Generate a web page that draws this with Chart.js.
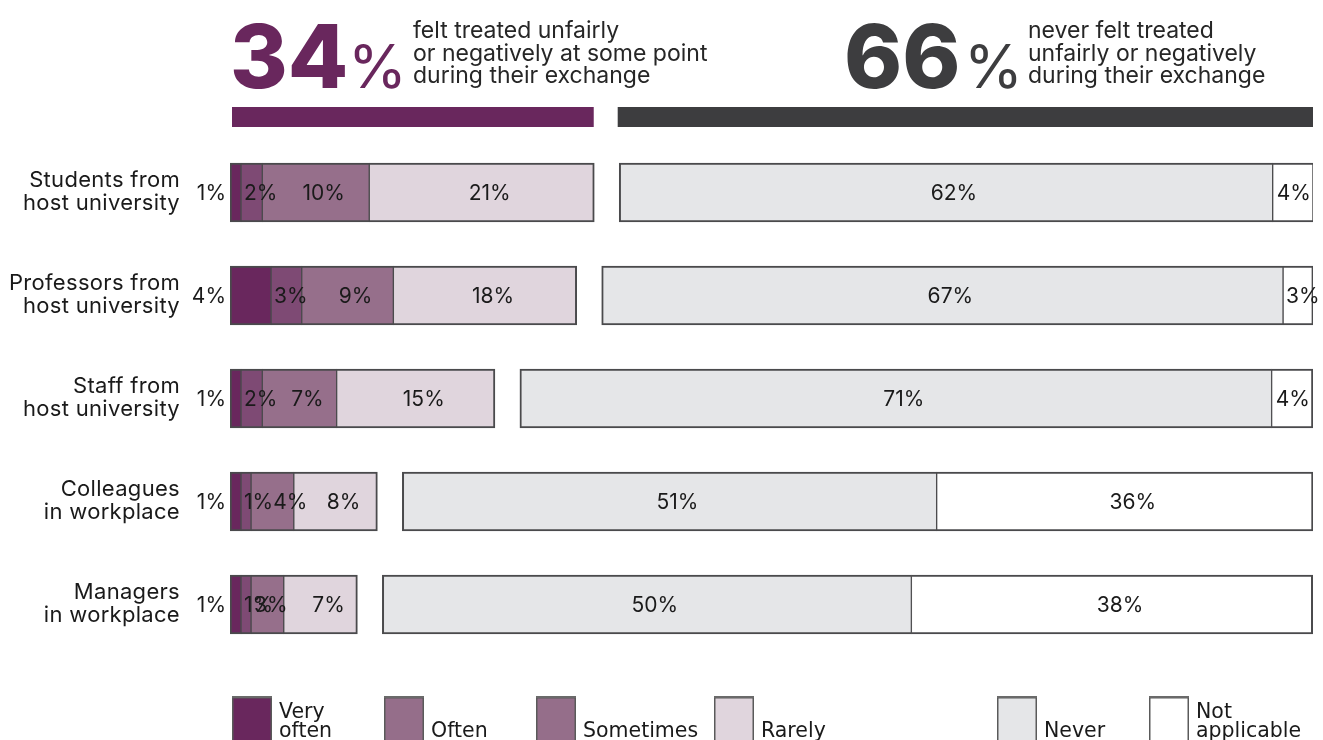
<!DOCTYPE html>
<html>
<head>
<meta charset="utf-8">
<script src="https://cdn.jsdelivr.net/npm/chart.js@4.4.1/dist/chart.umd.min.js"></script>
<style>
html,body{margin:0;padding:0;background:#ffffff;}
#wrap{position:relative;width:1323px;height:740px;overflow:hidden;}
canvas{display:block;}
</style>
</head>
<body>
<div id="wrap"><canvas id="chart" width="1323" height="740"></canvas></div>
<script>
// ---------------- DATA ----------------
const categories = [
  ["Students from", "host university"],
  ["Professors from", "host university"],
  ["Staff from", "host university"],
  ["Colleagues", "in workplace"],
  ["Managers", "in workplace"]
];
const seriesNames = ["Very often", "Often", "Sometimes", "Rarely", "Never", "Not applicable"];

// bar lengths (percent) as drawn in the picture
const veryOften     = [1.04, 3.88, 1.04, 1.04, 1.04];
const often         = [2.01, 2.90, 2.01, 0.95, 0.95];
const sometimes     = [10.11, 8.66, 7.03, 4.04, 3.09];
const rarely        = [21.27, 17.33, 14.96, 7.90, 6.96];
const never         = [61.76, 64.40, 71.05, 50.50, 50.00];
const notApplicable = [3.90, 2.86, 3.90, 35.57, 37.93];
// empty spacer between the two groups (percent units)
const spacer        = [2.36, 2.36, 2.36, 2.36, 2.36];

// printed value labels
const veryOftenLabels     = ["1%", "4%", "1%", "1%", "1%"];
const oftenLabels         = ["2%", "3%", "2%", "1%", "1%"];
const sometimesLabels     = ["10%", "9%", "7%", "4%", "3%"];
const rarelyLabels        = ["21%", "18%", "15%", "8%", "7%"];
const neverLabels         = ["62%", "67%", "71%", "51%", "50%"];
const notApplicableLabels = ["4%", "3%", "4%", "36%", "38%"];

// headline figures
const headlineValues = [34, 66];
const headlineTexts = [
  ["felt treated unfairly", "or negatively at some point", "during their exchange"],
  ["never felt treated", "unfairly or negatively", "during their exchange"]
];
const axisMax = 102.36;

// ---------------- STYLE ----------------
const COL = {
  veryOften: "#69275d",
  often: "#7e4a74",
  sometimes: "#966f8b",
  rarely: "#e0d5dd",
  never: "#e5e6e8",
  na: "#ffffff",
  border: "#4a4a4c",
  dark: "#3d3d3f",
  text: "#1a1a1a"
};
const legendColors = ["#69275d", "#956e8a", "#956e8a", "#e0d5dd", "#e5e6e8", "#ffffff"];
const legendLines = [["Very", "often"], ["Often"], ["Sometimes"], ["Rarely"], ["Never"], ["Not", "applicable"]];
const legendBoxX = [232, 384, 536, 714, 997, 1149];

const CAT_FONT = '22px Inter, "Noto Sans", sans-serif';
const LABEL_FONT = '21px Inter, "Noto Sans", sans-serif';

function bw(l, r) { return { top: 2, bottom: 2, left: l, right: r }; }

const datasets = [
  { label: seriesNames[0], data: veryOften, backgroundColor: COL.veryOften, borderWidth: bw(2, 1), valueLabels: veryOftenLabels, pos: "outside" },
  { label: seriesNames[1], data: often, backgroundColor: COL.often, borderWidth: bw(1, 1), valueLabels: oftenLabels },
  { label: seriesNames[2], data: sometimes, backgroundColor: COL.sometimes, borderWidth: bw(1, 1), valueLabels: sometimesLabels },
  { label: seriesNames[3], data: rarely, backgroundColor: COL.rarely, borderWidth: bw(1, 2), valueLabels: rarelyLabels },
  { label: "spacer", data: spacer, backgroundColor: "rgba(0,0,0,0)", borderWidth: 0, valueLabels: null },
  { label: seriesNames[4], data: never, backgroundColor: COL.never, borderWidth: bw(2, 1), valueLabels: neverLabels },
  { label: seriesNames[5], data: notApplicable, backgroundColor: COL.na, borderWidth: bw(1, 2), valueLabels: notApplicableLabels }
].map(d => Object.assign({ borderColor: COL.border, borderSkipped: false, barThickness: 59 }, d));

const decorPlugin = {
  id: "decor",
  afterDatasetsDraw(chart) {
    const ctx = chart.ctx;
    const xs = chart.scales.x, ys = chart.scales.y;
    ctx.save();

    // ---- header bars ----
    const x0 = xs.getPixelForValue(0);
    const x1 = xs.getPixelForValue(headlineValues[0]);
    const x2 = xs.getPixelForValue(axisMax - headlineValues[1]);
    const x3 = xs.getPixelForValue(axisMax);
    ctx.fillStyle = COL.veryOften;
    ctx.fillRect(x0 + 2, 107, x1 - x0 + 2, 20);
    ctx.fillStyle = COL.dark;
    ctx.fillRect(x2 + 3, 107, x3 - x2 - 3, 20);

    // ---- headline numbers ----
    const heads = [
      { num: String(headlineValues[0]), color: COL.veryOften, x: x0, pctX: 348, textX: 413 },
      { num: String(headlineValues[1]), color: COL.dark, x: 844, pctX: 964, textX: 1028 }
    ];
    heads.forEach((h, i) => {
      ctx.fillStyle = h.color;
      ctx.textBaseline = "alphabetic";
      ctx.textAlign = "left";
      ctx.font = '800 88px Inter, "Noto Sans", sans-serif';
      ctx.fillText(h.num, h.x, 88);
      ctx.font = '400 60px Inter, "Noto Sans", sans-serif';
      ctx.fillText("%", h.pctX, 88);
      ctx.fillStyle = "#262626";
      ctx.font = '23px Inter, "Noto Sans", sans-serif';
      headlineTexts[i].forEach((t, k) => ctx.fillText(t, h.textX, 38 + k * 22.5));
    });

    // ---- category labels ----
    ctx.fillStyle = COL.text;
    ctx.font = CAT_FONT;
    ctx.textAlign = "right";
    try { ctx.letterSpacing = "0.3px"; } catch (e) {}
    categories.forEach((lines, i) => {
      const cy = ys.getPixelForValue(i);
      ctx.fillText(lines[0], 180, cy - 6);
      ctx.fillText(lines[1], 180, cy + 17);
    });
    try { ctx.letterSpacing = "0px"; } catch (e) {}

    // ---- value labels ----
    ctx.font = LABEL_FONT;
    ctx.textBaseline = "middle";
    chart.data.datasets.forEach((ds, d) => {
      if (!ds.valueLabels) return;
      const meta = chart.getDatasetMeta(d);
      meta.data.forEach((el, i) => {
        const txt = ds.valueLabels[i];
        const left = Math.min(el.x, el.base), right = Math.max(el.x, el.base);
        const w = ctx.measureText(txt).width;
        const y = el.y + 1;
        if (ds.pos === "outside") {
          ctx.textAlign = "right";
          ctx.fillText(txt, left - 4, y);
          return;
        }
        ctx.textAlign = "left";
        let tx;
        if (w + 6 > right - left) {
          tx = left + 3;
        } else {
          tx = (left + right) / 2 + 8 - w / 2;
          tx = Math.min(tx, right - w - 3);
          const prev = chart.data.datasets[d - 1];
          if (prev && prev.valueLabels && !prev.pos) {
            const pel = chart.getDatasetMeta(d - 1).data[i];
            const pl = Math.min(pel.x, pel.base), pr = Math.max(pel.x, pel.base);
            const pw = ctx.measureText(prev.valueLabels[i]).width;
            if (pw + 6 > pr - pl) tx = Math.max(tx, pl + 3 + pw);
          }
        }
        ctx.fillText(txt, tx, y);
      });
    });

    // ---- legend ----
    ctx.textAlign = "left";
    ctx.textBaseline = "alphabetic";
    legendBoxX.forEach((bx, i) => {
      ctx.fillStyle = legendColors[i];
      ctx.fillRect(bx, 697, 40, 50);
      ctx.strokeStyle = "#5a5a5a";
      ctx.lineWidth = 1.5;
      ctx.strokeRect(bx + 0.75, 697.75, 38.5, 50);
      ctx.fillStyle = "#6a6a6a";
      ctx.fillRect(bx, 696, 40, 2);
      ctx.fillStyle = COL.text;
      ctx.font = '20.5px "DejaVu Sans", sans-serif';
      const lines = legendLines[i];
      if (lines.length === 1) {
        ctx.fillText(lines[0], bx + 47, 737);
      } else {
        ctx.fillText(lines[0], bx + 47, 718);
        ctx.fillText(lines[1], bx + 47, 737);
      }
    });
    ctx.restore();
  }
};

new Chart(document.getElementById("chart"), {
  type: "bar",
  data: { labels: categories, datasets: datasets },
  options: {
    indexAxis: "y",
    responsive: false,
    animation: false,
    devicePixelRatio: 1,
    layout: { padding: { left: 230, right: 10, top: 141, bottom: 84 } },
    plugins: { legend: { display: false }, tooltip: { enabled: false } },
    scales: {
      x: { stacked: true, min: 0, max: axisMax, display: false },
      y: { stacked: true, display: false }
    }
  },
  plugins: [decorPlugin]
});
</script>
</body>
</html>
